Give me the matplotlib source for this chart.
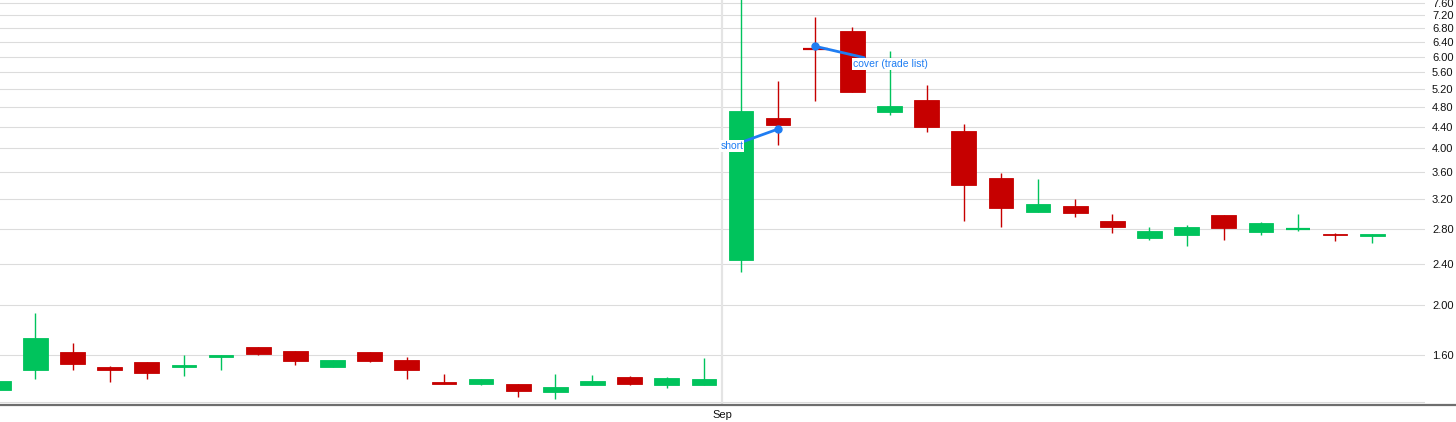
import matplotlib
matplotlib.use("Agg")
import matplotlib.pyplot as plt
from matplotlib.lines import Line2D
from matplotlib.ticker import FixedLocator, NullLocator, NullFormatter

# ---- data ----
opens  = [1.370, 1.501, 1.624, 1.519, 1.553, 1.521, 1.590, 1.662, 1.629, 1.521,
          1.624, 1.567, 1.424, 1.411, 1.411, 1.360, 1.403, 1.452, 1.403, 1.403,
          2.436, 4.566, 6.205, 6.710, 4.689, 4.951, 4.311, 3.501, 3.020, 3.097,
          2.903, 2.692, 2.728, 2.973, 2.765, 2.794, 2.740, 2.716]
highs  = [1.430, 1.929, 1.689, 1.526, 1.553, 1.600, 1.602, 1.662, 1.629, 1.565,
          1.624, 1.588, 1.473, 1.441, 1.411, 1.471, 1.465, 1.460, 1.452, 1.579,
          8.400, 5.385, 7.158, 6.848, 6.158, 5.291, 4.447, 3.584, 3.491, 3.195,
          2.994, 2.823, 2.844, 2.973, 2.886, 2.986, 2.748, 2.733]
lows   = [1.370, 1.441, 1.501, 1.424, 1.441, 1.462, 1.501, 1.600, 1.533, 1.521,
          1.553, 1.441, 1.411, 1.401, 1.332, 1.319, 1.403, 1.401, 1.384, 1.403,
          2.316, 4.063, 4.936, 5.137, 4.640, 4.303, 2.899, 2.819, 3.020, 2.954,
          2.752, 2.668, 2.599, 2.668, 2.728, 2.777, 2.657, 2.633]
closes = [1.430, 1.730, 1.542, 1.501, 1.481, 1.533, 1.602, 1.611, 1.562, 1.565,
          1.562, 1.501, 1.411, 1.441, 1.368, 1.391, 1.430, 1.411, 1.447, 1.441,
          4.710, 4.439, 6.198, 5.137, 4.822, 4.394, 3.404, 3.074, 3.125, 3.007,
          2.826, 2.770, 2.823, 2.814, 2.869, 2.796, 2.725, 2.733]

y_ticks = [1.60, 2.00, 2.40, 2.80, 3.20, 3.60, 4.00, 4.40, 4.80, 5.20,
           5.60, 6.00, 6.40, 6.80, 7.20, 7.60]
month_pos = [19.5]
month_labels = ["Sep"]

trade_idx = [21, 22]
trade_price = [4.355, 6.279]
trade_labels = ["short", "cover (trade list)"]

GREEN = "#00c35c"
RED = "#c60000"
BLUE = "#1f7df2"
GRID = "#dcdcdc"

W, H = 1456, 422
fig = plt.figure(figsize=(W / 100, H / 100), dpi=100)
ax = fig.add_axes([0, (H - 404) / H, 1425 / W, 404 / H])
ax.set_yscale("log")
ax.set_ylim(1.290, 7.707)
ax.set_xlim(0.046, 38.42)

for s in ax.spines.values():
    s.set_visible(False)

# grid
for t in y_ticks:
    ax.axhline(t, color=GRID, lw=0.8, zorder=0)
ax.axhline(1.302, color=GRID, lw=0.8, zorder=0)
for m in month_pos:
    ax.axvline(m, color="#e4e4e4", lw=1.6, zorder=0)

# candles
bw = 0.665
for i, (o, h, l, c) in enumerate(zip(opens, highs, lows, closes)):
    col = GREEN if c >= o else RED
    ax.vlines(i, l, h, color=col, lw=1.0, zorder=2)
    lo, hi = min(o, c), max(o, c)
    if hi / lo < 1.004:
        ax.hlines((o + c) / 2, i - bw / 2, i + bw / 2, color=col, lw=1.6, zorder=3)
    else:
        ax.bar(i, hi - lo, bottom=lo, width=bw, color=col, edgecolor=col,
               lw=0.6, zorder=3)

# trade annotations
label_off = [(-25, -12), (27, -12.5)]
for (ti, tp, tl, off) in zip(trade_idx, trade_price, trade_labels, label_off):
    ax.plot([ti], [tp], "o", color=BLUE, ms=5, zorder=6)
    ha = "right" if off[0] < 0 else "left"
    ax.annotate(tl, xy=(ti, tp), xytext=off,
                textcoords="offset points", ha=ha, va="center",
                fontsize=7.5, color=BLUE, family="Liberation Sans",
                bbox=dict(boxstyle="square,pad=0.1", fc="white", ec="none"),
                arrowprops=dict(arrowstyle="-", color=BLUE, lw=2.0,
                                shrinkA=0, shrinkB=0),
                zorder=5)

# axes ticks
ax.yaxis.tick_right()
ax.yaxis.set_major_locator(FixedLocator(y_ticks))
ax.yaxis.set_minor_locator(NullLocator())
ax.yaxis.set_minor_formatter(NullFormatter())
ax.set_yticklabels([f"{t:.2f}" for t in y_ticks])
ax.tick_params(axis="y", length=0, pad=5, labelsize=8, labelcolor="#111111")
ax.set_xticks(month_pos)
ax.set_xticklabels(month_labels)
ax.tick_params(axis="x", length=0, pad=4, labelsize=8, labelcolor="#111111")
for lab in ax.get_xticklabels() + ax.get_yticklabels():
    lab.set_family("Liberation Sans")

# bottom axis line across full width
fig.add_artist(Line2D([0, 1], [(H - 404.5) / H] * 2, color="#6e6e6e", lw=1.6,
                      transform=fig.transFigure))

fig.savefig("out.png", dpi=100)
